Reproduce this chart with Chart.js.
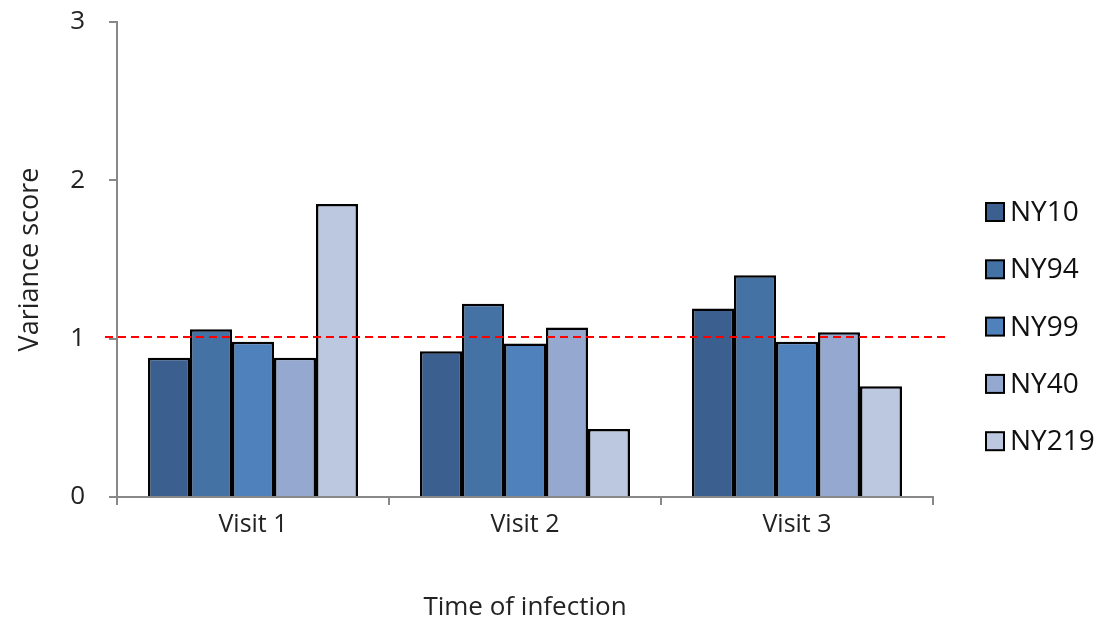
<html>
<head>
    <script src="https://cdn.jsdelivr.net/npm/chart.js@4.4.0/dist/chart.umd.min.js"></script>
    <style>
        body { margin: 0; background: #fff; }
        #wrap { width: 1105px; height: 623px; }
    </style>
</head>
<body>
    <div id="wrap"><canvas id="myChart" width="1105" height="623"></canvas></div>
    <script>
        const visits = ['Visit 1', 'Visit 2', 'Visit 3']
        const strains = ['NY10', 'NY94', 'NY99', 'NY40', 'NY219']
        const ny10 = [0.88, 0.92, 1.19]
        const ny94 = [1.06, 1.22, 1.40]
        const ny99 = [0.98, 0.97, 0.98]
        const ny40 = [0.88, 1.07, 1.04]
        const ny219 = [1.85, 0.43, 0.70]
        const colors = ['#3B5F8E', '#4472A4', '#4F81BD', '#95A9D0', '#BCC8E0']
        const refLine = 1.01
        const yTicks = [0, 1, 2, 3]

        const font = "'Open Sans', sans-serif"

        // dashed reference line and legend drawn on top
        const extras = {
            id: 'extras',
            afterDatasetsDraw(chart) {
                const ctx = chart.ctx
                const y = chart.scales.y.getPixelForValue(refLine)
                const area = chart.chartArea
                ctx.save()
                ctx.strokeStyle = '#FF0000'
                ctx.lineWidth = 2
                ctx.setLineDash([8, 5])
                ctx.beginPath()
                ctx.moveTo(area.left - 12, y)
                ctx.lineTo(area.right + 17, y)
                ctx.stroke()
                ctx.restore()
            },
            afterDraw(chart) {
                const ctx = chart.ctx
                ctx.save()
                ctx.font = '28px ' + font
                ctx.textBaseline = 'middle'
                chart.data.datasets.forEach((ds, i) => {
                    const cy = 212 + i * 57.3
                    ctx.fillStyle = ds.backgroundColor
                    ctx.fillRect(986, cy - 9, 18, 18)
                    ctx.strokeStyle = '#000'
                    ctx.lineWidth = 2
                    ctx.strokeRect(986, cy - 9, 18, 18)
                    ctx.fillStyle = '#111'
                    ctx.fillText(ds.label, 1010, cy + 1)
                })
                ctx.restore()
            }
        }

        const datasets = [ny10, ny94, ny99, ny40, ny219].map((vals, i) => ({
            label: strains[i],
            data: vals,
            backgroundColor: colors[i],
            borderColor: '#000',
            borderWidth: 2.5,
            borderSkipped: 'bottom'
        }))

        const ctx = document.getElementById('myChart').getContext('2d')
        const myChart = new Chart(ctx, {
            type: 'bar',
            data: { labels: visits, datasets: datasets },
            options: {
                responsive: false,
                animation: false,
                layout: { padding: { left: 0, right: 172, top: 22, bottom: 0 } },
                categoryPercentage: 0.772,
                barPercentage: 1.0,
                plugins: { legend: { display: false }, tooltip: { enabled: false } },
                scales: {
                    x: {
                        grid: { drawOnChartArea: false, drawTicks: true, tickLength: 8, color: '#888', lineWidth: 2, offset: true },
                        border: { color: '#888', width: 2 },
                        ticks: { color: '#222', font: { family: font, size: 25 }, padding: 5 },
                        title: { display: true, text: 'Time of infection', color: '#222', font: { family: font, size: 26 }, padding: { top: 34, bottom: 0 } },
                        afterFit(scale) { scale.height = 126; scale.paddingLeft = 0; scale.paddingRight = 0 }
                    },
                    y: {
                        min: 0,
                        max: 3,
                        afterBuildTicks(scale) { scale.ticks = yTicks.map(v => ({ value: v })) },
                        grid: { drawOnChartArea: false, drawTicks: true, tickLength: 8, color: '#888', lineWidth: 2 },
                        border: { color: '#888', width: 2 },
                        ticks: { color: '#222', font: { family: font, size: 26 }, padding: 24 },
                        title: { display: true, text: 'Variance score', color: '#222', font: { family: font, size: 27 }, padding: { top: 14, bottom: 4 } },
                        afterFit(scale) { scale.width = 117; scale.paddingTop = 0; scale.paddingBottom = 0 }
                    }
                }
            },
            plugins: [extras]
        })
    </script>
</body>
</html>
